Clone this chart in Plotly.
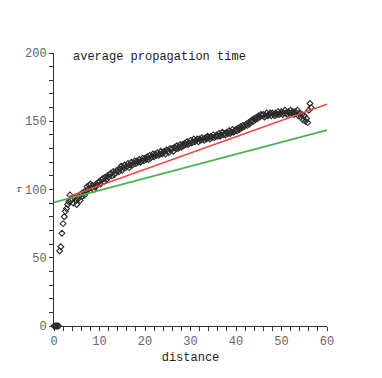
import plotly.graph_objects as go

distance = [round(0.25 * i, 2) for i in range(227)]
prop_time = [
    0, 0, 0, 0, 0, 55, 58, 68,
    75, 80, 84, 86, 89, 91, 96, 92,
    93, 90, 94, 92, 89, 93, 95, 92,
    97, 95, 98, 96, 99, 102, 100, 103,
    104, 101, 103, 100, 102, 104, 103, 105,
    106, 104, 107, 108, 106, 109, 107, 110,
    109, 111, 112, 110, 113, 111, 112, 114,
    114, 113, 115, 117, 114, 116, 118, 116,
    117, 119, 116, 118, 120, 118, 119, 121,
    119, 121, 120, 122, 120, 121, 123, 121,
    123, 122, 124, 122, 125, 123, 124, 126,
    124, 126, 125, 127, 125, 126, 128, 126,
    127, 128, 126, 129, 128, 127, 130, 129,
    130, 128, 131, 130, 132, 130, 131, 133,
    131, 133, 132, 134, 133, 135, 133, 134,
    136, 134, 135, 137, 135, 136, 137, 135,
    137, 136, 138, 137, 136, 138, 137, 139,
    138, 137, 139, 138, 140, 138, 139, 140,
    139, 141, 139, 140, 142, 140, 141, 140,
    142, 141, 143, 141, 142, 144, 142, 143,
    144, 143, 145, 144, 146, 145, 147, 146,
    147, 148, 147, 149, 148, 150, 151, 150,
    152, 151, 153, 152, 154, 153, 155, 154,
    155, 153, 154, 156, 154, 155, 156, 154,
    156, 155, 154, 156, 155, 157, 155, 156,
    157, 155, 156, 158, 156, 155, 157, 156,
    158, 156, 157, 155, 157, 156, 158, 154,
    156, 153, 155, 151, 154, 150, 152, 149,
    158, 163, 160,
]

# fitted lines
red_x = [3, 60]
red_y = [94.5, 162.5]
green_x = [0, 60]
green_y = [90.5, 143.5]

mono = "Liberation Mono"

fig = go.Figure()
fig.add_trace(go.Scatter(x=distance, y=prop_time, mode='markers', cliponaxis=False,
                         marker=dict(symbol='diamond-open', size=4.5, color='#2b2b2b',
                                     line=dict(width=1.1, color='#2b2b2b'))))
fig.add_trace(go.Scatter(x=red_x, y=red_y, mode='lines',
                         line=dict(color='#e8483f', width=1.5)))
fig.add_trace(go.Scatter(x=green_x, y=green_y, mode='lines',
                         line=dict(color='#4caf50', width=1.8)))

axis_common = dict(showline=True, linecolor='#333333', linewidth=1, showgrid=False,
                   zeroline=False, ticks='outside', ticklen=4, tickcolor='#333333',
                   tickfont=dict(family=mono, size=12, color='#666666'))

fig.update_xaxes(range=[0, 60], dtick=10,
                 minor=dict(dtick=2, ticks='outside', ticklen=4, tickcolor='#333333'),
                 title=dict(text='distance', font=dict(family=mono, size=12, color='#222222'),
                            standoff=4),
                 **axis_common)
fig.update_yaxes(range=[0, 200], dtick=50,
                 minor=dict(dtick=10, ticks='outside', ticklen=4, tickcolor='#333333'),
                 **axis_common)

fig.add_annotation(text='average propagation time', xref='paper', yref='paper',
                   x=0.063, y=0.984, xanchor='left', yanchor='middle', showarrow=False,
                   font=dict(family=mono, size=12, color='#222222'))
fig.add_annotation(text='r', xref='paper', yref='paper', x=-0.125, y=0.505,
                   xanchor='center', yanchor='middle', showarrow=False,
                   font=dict(family='DejaVu Serif', size=10, color='#555555'))

fig.update_layout(width=382, height=378, showlegend=False,
                  plot_bgcolor='white', paper_bgcolor='white',
                  margin=dict(l=46, r=63, t=45, b=60))

fig.write_html("out.html")
